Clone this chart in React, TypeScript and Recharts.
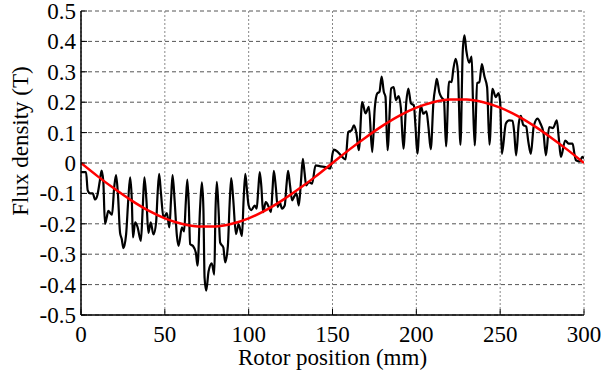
import { CartesianGrid, Label, Line, LineChart, XAxis, YAxis } from "recharts";

const WIDTH = 602;
const HEIGHT = 377;
const FONT = "Liberation Serif, Times New Roman, serif";
const FONT_SIZE = 23;

const positionTicks = [0, 50, 100, 150, 200, 250, 300];
const fluxTicks = [-0.5, -0.4, -0.3, -0.2, -0.1, 0, 0.1, 0.2, 0.3, 0.4, 0.5];

// measured air-gap flux density along the rotor: [position (mm), flux (T)]
const measuredFlux: [number, number][] = [
  [0, -0.03], [3.0, -0.03], [4.0, -0.09], [5.5, -0.1], [7.0, -0.1], [8.4, -0.12], [9.8, -0.105], [11.2, -0.06],
  [12.3, -0.025], [13.3, -0.06], [14.3, -0.2], [15.3, -0.18], [16.3, -0.157], [17.5, -0.165], [18.5, -0.17], [19.8, -0.08],
  [20.9, -0.04], [22.0, -0.1], [23.3, -0.23], [24.3, -0.25], [25.3, -0.28], [26.9, -0.235], [28.2, -0.12],
  [29.3, -0.047], [30.3, -0.12], [31.0, -0.245], [32.3, -0.195], [33.7, -0.21], [35.7, -0.256], [36.8, -0.15],
  [37.8, -0.047], [39.0, -0.12], [40.2, -0.23], [41.6, -0.195], [43.2, -0.235], [44.8, -0.195], [45.7, -0.1],
  [46.6, -0.036], [47.7, -0.1], [49.2, -0.18], [51.2, -0.165], [52.7, -0.212], [53.7, -0.12],
  [54.6, -0.04], [55.8, -0.12], [57.2, -0.24], [58.2, -0.273], [60.2, -0.212], [61.5, -0.225], [62.5, -0.13],
  [63.4, -0.055], [64.3, -0.14], [65.1, -0.267], [66.8, -0.273], [68.5, -0.295], [69.5, -0.338], [71.0, -0.15],
  [72.1, -0.064], [73.0, -0.15], [73.7, -0.377], [74.7, -0.42], [76.1, -0.356], [78.0, -0.33], [79.5, -0.367], [80.2, -0.16],
  [81.0, -0.062], [82.0, -0.15], [83.0, -0.262], [84.9, -0.278], [86.0, -0.327], [87.6, -0.273], [88.6, -0.14],
  [89.6, -0.05], [90.8, -0.12], [92.4, -0.234], [94.0, -0.201], [96.0, -0.24], [97.0, -0.12],
  [98.0, -0.036], [99.0, -0.09], [100.0, -0.14], [101.6, -0.155], [103.6, -0.14], [104.8, -0.15], [105.7, -0.09],
  [106.6, -0.03], [107.6, -0.08], [108.6, -0.162], [110.2, -0.129], [112.0, -0.145], [113.3, -0.162], [114.2, -0.09],
  [115.0, -0.026], [116.2, -0.08], [117.3, -0.145], [118.5, -0.129], [119.9, -0.15], [121.5, -0.14], [122.6, -0.07],
  [123.5, -0.026], [124.6, -0.07], [125.9, -0.123], [127.2, -0.11], [128.5, -0.1], [129.9, -0.14], [131.2, -0.06],
  [132.3, 0.014], [133.3, -0.03], [134.3, -0.074], [135.9, -0.063], [137.8, -0.068], [139.9, -0.008],
  [142.8, -0.011], [145.8, -0.013], [148.8, -0.018], [150.0, 0.03], [150.8, 0.044], [153.2, 0.036], [155.8, 0.02],
  [157.8, 0.012], [159.4, 0.102], [161.4, 0.108], [162.8, 0.124], [164.2, 0.1],
  [165.7, 0.042], [167.7, 0.2], [169.7, 0.163], [171.7, 0.185],
  [173.7, 0.036], [175.2, 0.18], [176.7, 0.229], [178.0, 0.234], [179.3, 0.284], [180.6, 0.234], [181.6, 0.218],
  [182.8, 0.042], [185.0, 0.245], [186.5, 0.25], [187.8, 0.207], [189.4, 0.22], [190.8, 0.18],
  [192.3, 0.047], [194.0, 0.2], [195.2, 0.245], [196.8, 0.196], [198.5, 0.19], [199.5, 0.12],
  [200.6, 0.031], [202.6, 0.189], [204.2, 0.162], [206.0, 0.17], [207.2, 0.12],
  [208.6, 0.045], [210.2, 0.2], [211.5, 0.255], [212.2, 0.277], [213.7, 0.233], [215.0, 0.216], [216.5, 0.205],
  [217.7, 0.055], [219.5, 0.268], [221.0, 0.266], [222.1, 0.31], [223.5, 0.343], [224.8, 0.3],
  [226.3, 0.06], [227.7, 0.37], [228.7, 0.42], [229.8, 0.37], [231.5, 0.33], [233.0, 0.35], [233.8, 0.2],
  [234.8, 0.058], [236.3, 0.263], [237.6, 0.266], [239.1, 0.325], [240.6, 0.285], [242.2, 0.25],
  [243.6, 0.06], [245.4, 0.244], [247.4, 0.217], [249.0, 0.23], [250.0, 0.2],
  [251.0, 0.03], [253.4, 0.13], [255.4, 0.14], [257.4, 0.139], [258.4, 0.1],
  [259.5, 0.025], [261.1, 0.13], [262.3, 0.155], [263.8, 0.125], [265.5, 0.12], [266.8, 0.07],
  [268.3, 0.03], [270.0, 0.12], [272.3, 0.146], [274.0, 0.13], [275.8, 0.1],
  [277.3, 0.025], [279.2, 0.118], [281.5, 0.115], [283.8, 0.14], [285.0, 0.08],
  [286.2, 0.02], [288.8, 0.074], [290.8, 0.064], [293.2, 0.064], [294.3, 0.03],
  [295.2, 0.009], [297.5, 0.005], [299.0, 0.02], [300.0, 0.015],
];

// fundamental component, sampled every 10 mm
const fundamentalPositions = [
  0, 10, 20, 30, 40, 50, 60, 70, 80, 90, 100, 110, 120, 130, 140, 150,
  160, 170, 180, 190, 200, 210, 220, 230, 240, 250, 260, 270, 280, 290, 300,
];
const fundamentalFlux = [
  0, -0.044, -0.085, -0.123, -0.156, -0.182, -0.2, -0.209, -0.209, -0.2, -0.182, -0.156, -0.123, -0.085, -0.044, 0,
  0.044, 0.085, 0.123, 0.156, 0.182, 0.2, 0.209, 0.209, 0.2, 0.182, 0.156, 0.123, 0.085, 0.044, 0,
];

const measuredData = measuredFlux.map(([pos, flux]) => ({ pos, flux }));
const fundamentalData = fundamentalPositions.map((pos, i) => ({ pos, flux: fundamentalFlux[i] }));

const textProps = { fontFamily: FONT, fontSize: FONT_SIZE, fill: "#000" };

function formatFlux(value: number) {
  if (Math.abs(value) < 1e-9) return "0";
  return value.toFixed(1);
}

// ticks point into the plot, labels sit outside
function BottomTick({ x, y, payload }: any) {
  return (
    <g>
      <line x1={x} x2={x} y1={y - 6} y2={y - 12} stroke="#000" strokeWidth={1} />
      <text x={x} y={y} dy={21} textAnchor="middle" {...textProps}>
        {payload.value}
      </text>
    </g>
  );
}

function LeftTick({ x, y, payload }: any) {
  return (
    <g>
      <line x1={x + 5} x2={x + 11} y1={y} y2={y} stroke="#000" strokeWidth={1} />
      <text x={x} y={y} dy={8} textAnchor="end" {...textProps}>
        {formatFlux(payload.value)}
      </text>
    </g>
  );
}

function FluxLabel({ viewBox }: any) {
  const cx = viewBox.x + 20;
  const cy = viewBox.y + viewBox.height / 2 - 22;
  return (
    <text
      x={cx}
      y={cy}
      transform={`rotate(-90, ${cx}, ${cy})`}
      textAnchor="middle"
      dominantBaseline="central"
      {...textProps}
    >
      Flux density (T)
    </text>
  );
}

function PositionLabel({ viewBox }: any) {
  const cx = viewBox.x + viewBox.width / 2;
  const cy = viewBox.y + viewBox.height - 12;
  return (
    <text x={cx} y={cy} textAnchor="middle" {...textProps}>
      Rotor position (mm)
    </text>
  );
}

export default function App() {
  return (
    <div style={{ position: "absolute", left: 0, top: 0, background: "#fff" }}>
      <LineChart width={WIDTH} height={HEIGHT} margin={{ top: 11, right: 18, bottom: 0, left: 0 }}>
        <CartesianGrid horizontal={false} stroke="#888" strokeDasharray="2 2" />
        <CartesianGrid vertical={false} stroke="#555" strokeDasharray="4 3" />
        <XAxis
          type="number"
          dataKey="pos"
          domain={[0, 300]}
          ticks={positionTicks}
          allowDataOverflow
          height={62}
          tickSize={0}
          tickMargin={6}
          tick={<BottomTick />}
          axisLine={{ stroke: "#000", strokeWidth: 1.5 }}
        >
          <Label content={<PositionLabel />} />
        </XAxis>
        <YAxis
          type="number"
          domain={[-0.5, 0.5]}
          ticks={fluxTicks}
          allowDataOverflow
          width={81}
          tickSize={0}
          tickMargin={5}
          tick={<LeftTick />}
          axisLine={{ stroke: "#000", strokeWidth: 1.5 }}
          label={<FluxLabel />}
        />
        <Line
          data={measuredData}
          dataKey="flux"
          type="monotone"
          stroke="#000"
          strokeWidth={2.2}
          dot={false}
          isAnimationActive={false}
        />
        <Line
          data={fundamentalData}
          dataKey="flux"
          type="monotone"
          stroke="#ff0000"
          strokeWidth={2.5}
          dot={false}
          isAnimationActive={false}
        />
      </LineChart>
    </div>
  );
}
